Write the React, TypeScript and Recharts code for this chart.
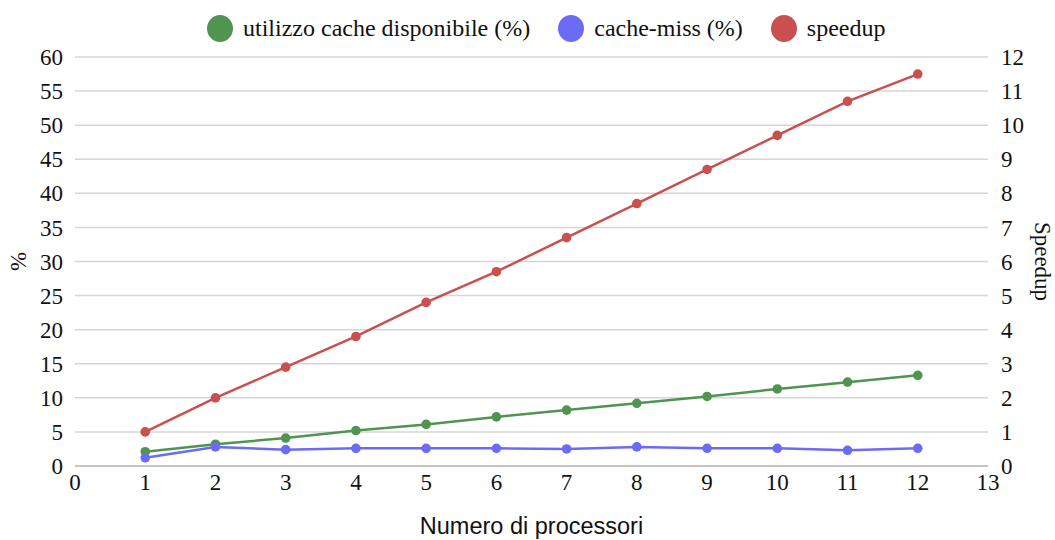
import { CartesianGrid, Line, LineChart, XAxis, YAxis } from 'recharts';

const processori = [1, 2, 3, 4, 5, 6, 7, 8, 9, 10, 11, 12];
const utilizzoCache = [2.1, 3.2, 4.1, 5.2, 6.1, 7.2, 8.2, 9.2, 10.2, 11.3, 12.3, 13.3];
const cacheMiss = [1.2, 2.8, 2.4, 2.6, 2.6, 2.6, 2.5, 2.8, 2.6, 2.6, 2.3, 2.6];
const speedup = [1.0, 2.0, 2.9, 3.8, 4.8, 5.7, 6.7, 7.7, 8.7, 9.7, 10.7, 11.5];

const xTicks = [0, 1, 2, 3, 4, 5, 6, 7, 8, 9, 10, 11, 12, 13];
const percentTicks = [0, 5, 10, 15, 20, 25, 30, 35, 40, 45, 50, 55, 60];
const speedupTicks = [0, 1, 2, 3, 4, 5, 6, 7, 8, 9, 10, 11, 12];

const GREEN = '#4f9550';
const BLUE = '#6b6bf6';
const RED = '#c9504f';
const SERIF = "'Liberation Serif', Tinos, Times, 'DejaVu Serif', serif";

const series = [
  { key: 'cache', name: 'utilizzo cache disponibile (%)', color: GREEN, axis: 'left' },
  { key: 'miss', name: 'cache-miss (%)', color: BLUE, axis: 'left' },
  { key: 'speedup', name: 'speedup', color: RED, axis: 'right' },
];

const data = processori.map((n, i) => ({
  n,
  cache: utilizzoCache[i],
  miss: cacheMiss[i],
  speedup: speedup[i],
}));

const tickStyle = { fontFamily: SERIF, fontSize: 23, fill: '#111' };

function LegendRow() {
  return (
    <div
      style={{
        position: 'absolute',
        top: 15,
        left: 207,
        display: 'flex',
        alignItems: 'center',
        fontFamily: SERIF,
        fontSize: 24,
        color: '#111',
        whiteSpace: 'nowrap',
      }}
    >
      {series.map((s) => (
        <div key={s.key} style={{ display: 'flex', alignItems: 'center', marginRight: 28 }}>
          <span style={{ width: 26, height: 27, borderRadius: '50%', background: s.color, marginRight: 10, display: 'inline-block' }} />
          <span>{s.name}</span>
        </div>
      ))}
    </div>
  );
}

export default function App() {
  return (
    <div style={{ position: 'absolute', left: 0, top: 0, width: 1055, height: 540, background: '#fff' }}>
      <LineChart width={1055} height={540} data={data} margin={{ top: 57, right: 0, bottom: 0, left: 0 }}>
        <CartesianGrid yAxisId="left" vertical={false} stroke="#d6d6d6" strokeWidth={1.5} />
        <XAxis
          dataKey="n"
          type="number"
          domain={[0, 13]}
          ticks={xTicks}
          interval={0}
          height={74}
          tickSize={0}
          tickMargin={8}
          axisLine={{ stroke: '#c4c4c4', strokeWidth: 2 }}
          tick={tickStyle}
          label={({ viewBox }: any) => (
            <text
              x={viewBox.x + viewBox.width / 2}
              y={526}
              textAnchor="middle"
              dominantBaseline="central"
              fontFamily="'Liberation Sans', Arimo, Arial, sans-serif"
              fontSize={23.5}
              fill="#111"
            >
              Numero di processori
            </text>
          )}
        />
        <YAxis
          yAxisId="left"
          domain={[0, 60]}
          ticks={percentTicks}
          interval={0}
          width={75}
          tickSize={0}
          tickMargin={12}
          axisLine={false}
          tick={tickStyle}
          label={({ viewBox }: any) => (
            <text
              x={18}
              y={viewBox.y + viewBox.height / 2}
              textAnchor="middle"
              dominantBaseline="central"
              transform={`rotate(-90 18 ${viewBox.y + viewBox.height / 2})`}
              fontFamily={SERIF}
              fontSize={23}
              fill="#111"
            >
              %
            </text>
          )}
        />
        <YAxis
          yAxisId="right"
          orientation="right"
          domain={[0, 12]}
          ticks={speedupTicks}
          interval={0}
          width={67}
          tickSize={0}
          tickMargin={13}
          axisLine={false}
          tick={{ ...tickStyle, textAnchor: 'start' }}
          label={({ viewBox }: any) => (
            <text
              x={1042}
              y={viewBox.y + viewBox.height / 2}
              textAnchor="middle"
              dominantBaseline="central"
              transform={`rotate(90 1042 ${viewBox.y + viewBox.height / 2})`}
              fontFamily={SERIF}
              fontSize={23}
              fill="#111"
            >
              Speedup
            </text>
          )}
        />
        {series.map((s) => (
          <Line
            key={s.key}
            yAxisId={s.axis}
            dataKey={s.key}
            name={s.name}
            type="linear"
            stroke={s.color}
            strokeWidth={2.5}
            dot={{ r: 4.8, fill: s.color, stroke: s.color, strokeWidth: 0 }}
            activeDot={false}
            isAnimationActive={false}
          />
        ))}
      </LineChart>
      <LegendRow />
    </div>
  );
}
